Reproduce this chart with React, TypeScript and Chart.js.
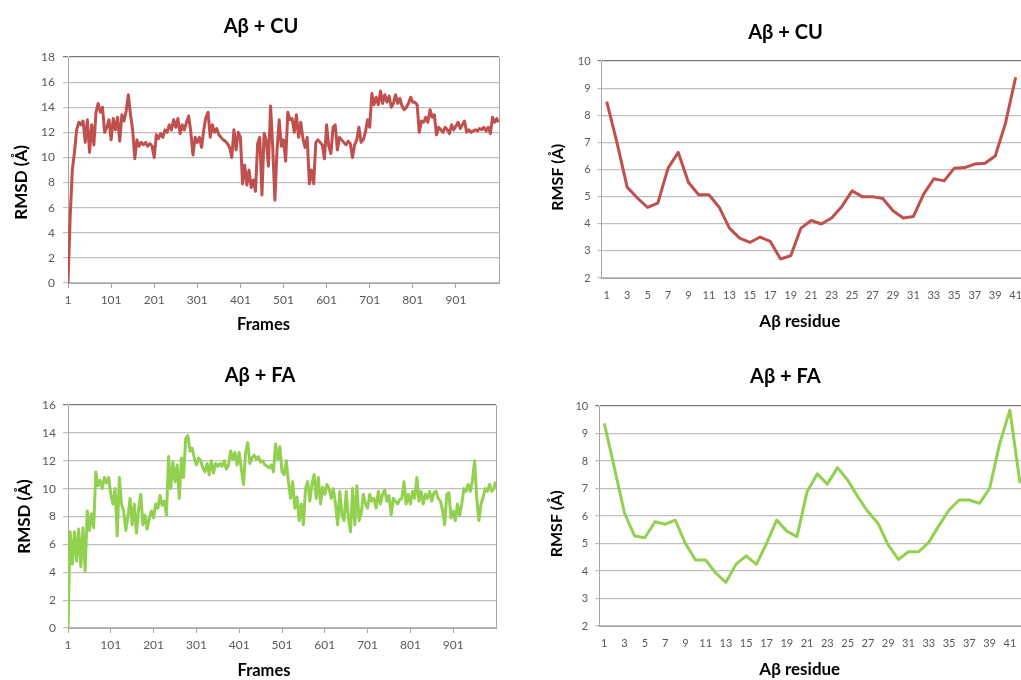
import React, { useEffect, useRef } from 'react';
import { Chart, registerables } from 'chart.js';

Chart.register(...registerables);

const FONT = 'Lato, "Open Sans", sans-serif';

// ---------- data ----------
const frameTicks = [1, 101, 201, 301, 401, 501, 601, 701, 801, 901];
const frameStep = 5; // one value every 5 frames, last value at frame 1000

const rmsdCU = [
  0, 5.2, 9.0, 10.4, 12.2, 12.8, 12.6, 12.9, 11.2, 13.0,
  10.4, 12.6, 11.0, 13.6, 14.3, 13.6, 14.0, 12.0, 12.4, 13.0,
  11.4, 13.1, 12.2, 13.2, 11.3, 13.4, 12.9, 13.7, 15.0, 13.4,
  12.2, 9.9, 11.4, 10.9, 11.2, 11.0, 11.2, 10.9, 11.1, 10.9,
  10.0, 11.8, 11.5, 11.9, 11.6, 12.2, 12.0, 12.6, 12.2, 13.0,
  12.4, 13.1, 11.9, 12.6, 12.2, 12.8, 13.3, 12.0, 10.2, 11.6,
  11.2, 11.6, 10.8, 12.2, 13.2, 13.6, 11.6, 12.6, 12.0, 12.3,
  11.8, 11.6, 11.4, 11.3, 11.1, 10.8, 10.0, 12.2, 10.6, 12.0,
  11.6, 7.9, 9.4, 7.8, 9.0, 7.6, 8.2, 7.3, 11.1, 11.6,
  7.0, 11.9, 11.4, 9.3, 14.1, 10.8, 6.6, 10.6, 13.0, 10.9,
  11.4, 9.7, 13.6, 13.0, 13.1, 12.0, 13.4, 11.6, 12.8, 11.5,
  10.8, 11.6, 7.9, 9.0, 7.9, 11.2, 11.4, 11.2, 11.0, 9.9,
  12.6, 10.9, 10.3, 12.4, 12.6, 10.6, 11.6, 11.4, 11.2, 11.0,
  11.3, 11.1, 10.0, 11.0, 11.4, 12.4, 11.2, 11.4, 12.0, 13.0,
  12.4, 15.1, 14.2, 14.8, 14.2, 15.3, 14.3, 15.0, 14.4, 14.9,
  14.0, 14.3, 15.0, 14.3, 14.7, 14.1, 13.8, 14.0, 14.3, 14.8,
  14.4, 14.4, 14.2, 12.0, 12.9, 12.8, 13.2, 12.8, 13.8, 13.2,
  13.4, 11.8, 12.4, 12.2, 12.0, 12.4, 12.2, 11.9, 12.6, 12.2,
  12.5, 12.8, 12.3, 12.6, 12.9, 12.0, 12.2, 12.0, 12.1, 12.2,
  12.1, 12.3, 12.2, 12.4, 12.1, 12.4, 11.9, 13.2, 12.8, 13.1,
  12.8,
];

const rmsdFA = [
  0, 6.9, 4.6, 6.9, 4.8, 7.1, 4.4, 7.2, 4.1, 8.4,
  7.0, 8.2, 7.2, 11.2, 10.2, 10.6, 10.0, 10.8, 10.4, 10.8,
  9.6, 8.9, 10.0, 6.6, 10.8, 8.9, 8.4, 7.0, 8.0, 9.3,
  7.4, 8.9, 6.8, 8.5, 9.6, 7.4, 8.1, 7.1, 7.9, 8.4,
  7.9, 8.9, 8.6, 9.5, 8.8, 9.1, 8.1, 12.3, 10.0, 11.9,
  10.5, 11.7, 9.3, 12.2, 10.8, 13.6, 13.8, 12.7, 12.9, 12.2,
  11.7, 12.2, 12.0, 11.5, 11.2, 11.8, 11.0, 12.0, 11.1, 11.8,
  11.6, 11.8, 11.6, 12.0, 11.4, 11.7, 12.7, 12.1, 12.6, 11.7,
  12.6, 11.4, 10.3, 12.6, 13.3, 11.8, 12.2, 12.4, 12.1, 12.3,
  11.9, 12.0, 11.7, 11.6, 11.5, 11.7, 11.2, 13.2, 12.1, 13.0,
  11.2, 11.0, 12.0, 10.5, 9.3, 10.5, 8.6, 9.4, 7.7, 8.9,
  7.4, 10.0, 10.5, 9.1, 10.3, 11.0, 9.3, 10.8, 8.9, 10.1,
  9.6, 10.3, 10.0, 9.3, 10.0, 8.9, 7.4, 9.8, 8.1, 7.7,
  9.8, 7.9, 6.9, 10.0, 7.4, 10.2, 7.7, 8.2, 9.6, 8.9,
  8.6, 9.6, 9.1, 9.3, 8.6, 9.8, 8.9, 9.6, 9.9, 9.1,
  9.5, 8.1, 9.3, 9.1, 8.9, 9.2, 9.3, 10.5, 8.9, 9.6,
  8.9, 9.8, 9.3, 10.8, 9.1, 9.8, 8.9, 9.6, 9.3, 9.8,
  9.1, 9.7, 9.8, 9.3, 9.1, 8.5, 7.4, 9.6, 9.7, 7.9,
  8.4, 7.7, 8.9, 8.1, 8.9, 10.0, 9.8, 10.3, 9.8, 10.6,
  12.0, 9.3, 7.7, 8.9, 9.4, 10.0, 9.8, 10.3, 9.8, 10.0,
  10.5,
];

const residues = [
  1, 2, 3, 4, 5, 6, 7, 8, 9, 10, 11, 12, 13, 14, 15, 16, 17, 18, 19, 20, 21,
  22, 23, 24, 25, 26, 27, 28, 29, 30, 31, 32, 33, 34, 35, 36, 37, 38, 39, 40, 41, 42,
];

const rmsfCU = [
  8.5, 7.0, 5.35, 4.95, 4.6, 4.76, 6.05, 6.63, 5.52, 5.07,
  5.07, 4.61, 3.84, 3.47, 3.31, 3.51, 3.35, 2.7, 2.82, 3.84,
  4.12, 3.99, 4.21, 4.64, 5.21, 5.0, 5.0, 4.93, 4.48, 4.21,
  4.27, 5.09, 5.66, 5.58, 6.05, 6.07, 6.2, 6.23, 6.5, 7.7,
  9.4,
];

const rmsfFA = [
  9.37, 7.75, 6.1, 5.27, 5.21, 5.79, 5.7, 5.85, 5.0, 4.4,
  4.4, 3.92, 3.59, 4.25, 4.55, 4.24, 5.0, 5.85, 5.45, 5.25,
  6.88, 7.53, 7.16, 7.76, 7.31, 6.7, 6.16, 5.73, 4.95, 4.42,
  4.7, 4.7, 5.04, 5.65, 6.22, 6.58, 6.58, 6.46, 7.0, 8.64,
  9.85, 7.19,
];

const RED = '#c0504d';
const GREEN = '#92d050';
const TICK_COLOR = '#595959';
const GRID_COLOR = '#bfbfbf';
const TOP_COLOR = '#7a7a7a';
const AXIS_COLOR = '#a6a6a6';

type Geo = {
  left: number; top: number; w: number; h: number;
  padL: number; padR: number; yAxisW: number; xAxisH: number;
  titleTop: number; titleBottom: number; yTitlePad: number; xTitleBottom: number;
  xSp: number; ySp: number; xTickPad: number; yTickPad: number;
  xTitleSize: number; yTitleSize: number;
};

const rightBorder = {
  id: 'rightBorder',
  afterDatasetsDraw(chart: any) {
    const { ctx, chartArea: a } = chart;
    ctx.save();
    ctx.strokeStyle = AXIS_COLOR;
    ctx.lineWidth = 1;
    ctx.beginPath();
    ctx.moveTo(Math.round(a.right) + 0.5, a.top);
    ctx.lineTo(Math.round(a.right) + 0.5, a.bottom);
    ctx.stroke();
    ctx.restore();
  },
};

function titleOpts(text: string, g: Geo) {
  return {
    display: true,
    text,
    color: '#000',
    font: { family: FONT, size: 20, weight: 'bold' as const },
    padding: { top: g.titleTop, bottom: g.titleBottom },
  };
}

function rmsdConfig(title: string, values: number[], color: string, yMax: number, g: Geo): any {
  const pts = values.map((v, i) => ({ x: Math.min(1 + frameStep * i, 1000), y: v }));
  return {
    type: 'line',
    data: {
      datasets: [{
        data: pts, borderColor: color, borderWidth: 3, pointRadius: 0,
        tension: 0, fill: false, borderJoinStyle: 'round',
      }],
    },
    options: {
      responsive: false,
      animation: false,
      events: [],
      layout: { padding: { left: g.padL, right: g.padR, top: 0, bottom: 0 } },
      plugins: {
        legend: { display: false },
        tooltip: { enabled: false },
        title: titleOpts(title, g),
      },
      scales: {
        x: {
          type: 'linear', min: 1, max: 1001,
          afterBuildTicks: (s: any) => { s.ticks = frameTicks.map((v) => ({ value: v })); },
          afterFit: (s: any) => { s.height = g.xAxisH; },
          grid: { drawOnChartArea: false, drawTicks: true, tickLength: 5, color: AXIS_COLOR },
          border: { color: AXIS_COLOR },
          ticks: { color: TICK_COLOR, font: { family: FONT, size: 12 }, padding: g.xTickPad, maxRotation: 0, autoSkip: false },
          title: {
            display: true, text: 'Frames' + ' '.repeat(g.xSp), color: '#000',
            font: { family: FONT, size: g.xTitleSize, weight: 'bold' }, padding: { top: 0, bottom: g.xTitleBottom },
          },
        },
        y: {
          min: 0, max: yMax,
          afterFit: (s: any) => { s.width = g.yAxisW; },
          ticks: { stepSize: 2, color: TICK_COLOR, font: { family: FONT, size: 12 }, padding: g.yTickPad },
          grid: {
            color: (c: any) => (c.tick && c.tick.value === yMax ? TOP_COLOR : GRID_COLOR),
            lineWidth: 1.2, tickLength: 5,
          },
          border: { color: AXIS_COLOR },
          title: {
            display: true, text: 'RMSD (Å)' + ' '.repeat(g.ySp), color: '#000',
            font: { family: FONT, size: g.yTitleSize, weight: 'bold' }, padding: { top: g.yTitlePad, bottom: 0 },
          },
        },
      },
    },
    plugins: [rightBorder],
  };
}

function rmsfConfig(title: string, values: number[], color: string, g: Geo): any {
  return {
    type: 'line',
    data: {
      labels: residues.map(String),
      datasets: [{
        data: values, borderColor: color, borderWidth: 3, pointRadius: 0,
        tension: 0, fill: false, borderJoinStyle: 'round',
      }],
    },
    options: {
      responsive: false,
      animation: false,
      events: [],
      layout: { padding: { left: g.padL, right: g.padR, top: 0, bottom: 0 } },
      plugins: {
        legend: { display: false },
        tooltip: { enabled: false },
        title: titleOpts(title, g),
      },
      scales: {
        x: {
          type: 'category', offset: true,
          afterFit: (s: any) => { s.height = g.xAxisH; },
          grid: { display: false, drawTicks: false },
          border: { color: AXIS_COLOR },
          ticks: {
            color: TICK_COLOR, font: { family: FONT, size: 11 }, padding: g.xTickPad,
            maxRotation: 0, autoSkip: false,
            callback: (_v: any, i: number) => (i % 2 === 0 ? String(residues[i]) : ''),
          },
          title: {
            display: true, text: 'Aβ residue' + ' '.repeat(g.xSp), color: '#000',
            font: { family: FONT, size: g.xTitleSize, weight: 'bold' }, padding: { top: 0, bottom: g.xTitleBottom },
          },
        },
        y: {
          min: 2, max: 10,
          afterFit: (s: any) => { s.width = g.yAxisW; },
          ticks: { stepSize: 1, color: TICK_COLOR, font: { family: FONT, size: 11 }, padding: g.yTickPad },
          grid: {
            color: (c: any) => (c.tick && c.tick.value === 10 ? TOP_COLOR : GRID_COLOR),
            lineWidth: 1.2, tickLength: 4,
          },
          border: { color: AXIS_COLOR },
          title: {
            display: true, text: 'RMSF (Å)' + ' '.repeat(g.ySp), color: '#000',
            font: { family: FONT, size: g.yTitleSize, weight: 'bold' }, padding: { top: g.yTitlePad, bottom: 0 },
          },
        },
      },
    },
  };
}

const geoTL: Geo = { left: 0, top: 0, w: 510, h: 340, padL: 23, padR: 11, yAxisW: 45, xAxisH: 57, titleTop: 15, titleBottom: 18, yTitlePad: -11.2, xTitleBottom: 5, xSp: 10, ySp: 6, xTickPad: 5, yTickPad: 8, xTitleSize: 16.5, yTitleSize: 17 };
const geoBL: Geo = { left: 0, top: 340, w: 510, h: 340, padL: 24, padR: 14, yAxisW: 44, xAxisH: 52, titleTop: 24, titleBottom: 17, yTitlePad: -9.2, xTitleBottom: -1, xSp: 9, ySp: 0, xTickPad: 5, yTickPad: 7, xTitleSize: 16.5, yTitleSize: 17 };
const geoTR: Geo = { left: 510, top: 0, w: 531, h: 340, padL: 30, padR: 10, yAxisW: 61.6, xAxisH: 62, titleTop: 21, titleBottom: 16, yTitlePad: 7.9, xTitleBottom: 8, xSp: 8, ySp: 4, xTickPad: 11, yTickPad: 7, xTitleSize: 17, yTitleSize: 16 };
const geoBR: Geo = { left: 510, top: 340, w: 526, h: 340, padL: 35.5, padR: 10.9, yAxisW: 53.7, xAxisH: 54, titleTop: 24.5, titleBottom: 17.5, yTitlePad: 1.6, xTitleBottom: 0, xSp: 6, ySp: 4, xTickPad: 11, yTickPad: 7, xTitleSize: 17, yTitleSize: 16 };

function Panel({ g, make }: { g: Geo; make: () => any }) {
  const ref = useRef<HTMLCanvasElement>(null);
  useEffect(() => {
    if (!ref.current) return;
    const chart = new Chart(ref.current, make());
    return () => chart.destroy();
  }, []);
  return (
    <canvas
      ref={ref}
      width={g.w}
      height={g.h}
      style={{ position: 'absolute', left: g.left, top: g.top, width: g.w, height: g.h }}
    />
  );
}

export default function App() {
  return (
    <div
      style={{
        position: 'fixed', left: 0, top: 0, width: 1021, height: 680,
        overflow: 'hidden', background: '#ffffff',
      }}
    >
      <Panel g={geoTL} make={() => rmsdConfig('Aβ + CU', rmsdCU, RED, 18, geoTL)} />
      <Panel g={geoBL} make={() => rmsdConfig('Aβ + FA', rmsdFA, GREEN, 16, geoBL)} />
      <Panel g={geoTR} make={() => rmsfConfig('Aβ + CU', rmsfCU, RED, geoTR)} />
      <Panel g={geoBR} make={() => rmsfConfig('Aβ + FA', rmsfFA, GREEN, geoBR)} />
    </div>
  );
}
